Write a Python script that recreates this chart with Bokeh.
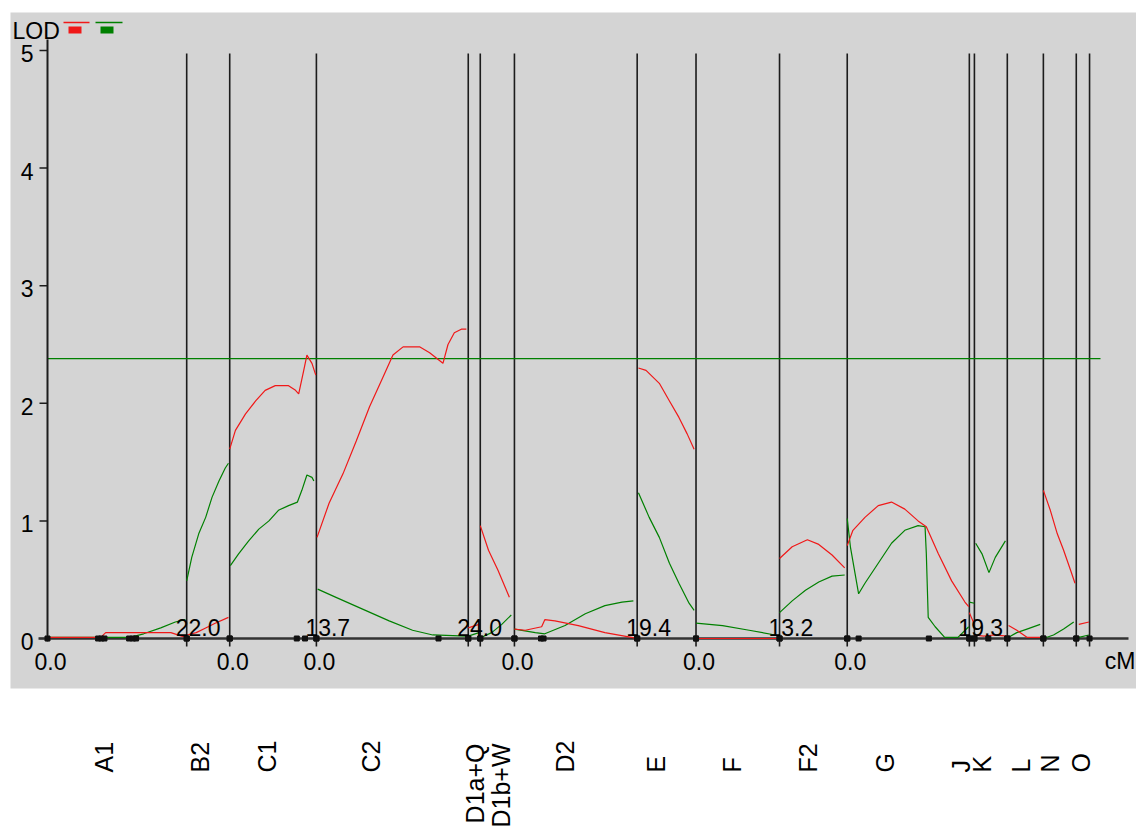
import numpy as np
from bokeh.plotting import figure
from bokeh.core.properties import value
from bokeh.embed import file_html
from bokeh.resources import INLINE

# ---------------- data ----------------
chroms = ["A1", "B2", "C1", "C2", "D1a+Q", "D1b+W", "D2", "E", "F", "F2",
          "G", "J", "K", "L", "N", "O"]
lengths = [22.0, 6.8, 13.7, 24.0, 1.9, 5.4, 19.4, 9.3, 13.2, 10.7,
           19.3, 0.8, 5.2, 5.7, 5.2, 2.1]
# chromosomes whose start (0.0) and length are printed on the axis
labeled = ["A1", "C1", "C2", "D2", "F", "G"]
threshold = 2.38
y_ticks = [0, 1, 2, 3, 4, 5]

# LOD profile, trait 1 (red): positions (cM in chromosome) and LOD
red_cm = [
    [0, 8.4, 9.2, 19.5, 21.2, 22.0],
    [0, 1.5, 3.0, 4.5, 6.6],
    [0, 0.9, 2.5, 4.1, 5.6, 7.2, 9.3, 10.4, 10.9, 11.7, 12.2, 13.0, 13.6],
    [0.1, 2.0, 4.2, 6.3, 8.4, 10.5, 12.1, 13.7, 16.3, 17.9, 20.0, 20.8, 21.8, 22.9, 23.7],
    [0, 1.7],
    [0, 1.3, 2.8, 4.6],
    [0, 1.7, 4.3, 4.8, 6.4, 10.1, 14.3, 18.5, 19.4],
    [0.2, 1.4, 3.5, 5.1, 6.6, 7.9, 9.0],
    [0, 13.2],
    [0, 2.0, 4.4, 6.2, 8.3, 10.3],
    [0, 0.9, 2.8, 4.9, 7.0, 9.1, 11.2, 12.5, 14.4, 16.5, 18.6, 19.2],
    [0, 0.8],
    [0, 1.5, 3.0, 5.2],
    [0.2, 1.5, 3.1, 5.5],
    [0, 1.1, 2.2, 3.2, 4.3, 5.0],
    [0.4, 2.0],
]
red_lod = [
    [0.01, 0.01, 0.05, 0.05, 0.02, 0.01],
    [0.03, 0.05, 0.09, 0.13, 0.18],
    [1.61, 1.77, 1.91, 2.02, 2.11, 2.15, 2.15, 2.11, 2.08, 2.28, 2.41, 2.34, 2.24],
    [0.86, 1.15, 1.40, 1.68, 1.97, 2.22, 2.41, 2.48, 2.48, 2.43, 2.34, 2.50, 2.60, 2.63, 2.63],
    [0.09, 0.12],
    [0.96, 0.75, 0.58, 0.35],
    [0.08, 0.07, 0.10, 0.16, 0.15, 0.11, 0.05, 0.01, 0.0],
    [2.30, 2.28, 2.17, 2.02, 1.88, 1.74, 1.61],
    [0.0, 0.0],
    [0.68, 0.78, 0.84, 0.80, 0.71, 0.60],
    [0.79, 0.92, 1.03, 1.13, 1.16, 1.10, 1.00, 0.95, 0.72, 0.49, 0.31, 0.27],
    [0.22, 0.12],
    [0.03, 0.02, 0.03, 0.02],
    [0.11, 0.07, 0.01, 0.01],
    [1.26, 1.09, 0.89, 0.75, 0.58, 0.47],
    [0.12, 0.14],
]

# LOD profile, trait 2 (green)
green_cm = [
    [0, 13.0, 15.2, 17.9, 20.2, 21.8],
    [0, 0.8, 1.9, 3.0, 4.0, 5.1, 6.1, 6.6],
    [0.1, 1.4, 3.0, 4.6, 6.2, 7.7, 9.3, 10.7, 11.4, 12.2, 13.0, 13.3],
    [0.2, 3.1, 7.3, 11.5, 15.2, 18.4, 23.7],
    [0, 1.7],
    [0.2, 1.8, 3.4, 4.9],
    [0, 3.3, 4.8, 8.0, 11.2, 14.3, 17.0, 18.8],
    [0.2, 1.9, 3.5, 5.1, 6.6, 8.2, 9.0],
    [0, 4.2, 8.4, 12.5],
    [0, 2.0, 4.1, 6.2, 8.3, 10.3],
    [0, 0.5, 1.8, 2.8, 4.9, 7.0, 9.1, 11.2, 12.3, 12.5, 12.8, 13.9, 15.4, 17.5, 19.2],
    [0, 0.8],
    [0.2, 1.2, 2.3, 3.3, 4.9],
    [0.2, 1.5, 3.1, 5.2],
    [0, 1.6, 3.2, 4.8],
    [0.4, 2.0],
]
green_lod = [
    [0.01, 0.01, 0.04, 0.09, 0.14, 0.16],
    [0.49, 0.69, 0.89, 1.03, 1.20, 1.34, 1.45, 1.49],
    [0.62, 0.72, 0.83, 0.93, 1.00, 1.09, 1.13, 1.16, 1.26, 1.39, 1.37, 1.34],
    [0.42, 0.35, 0.25, 0.15, 0.07, 0.03, 0.02],
    [0.02, 0.05],
    [0.01, 0.05, 0.12, 0.20],
    [0.08, 0.05, 0.04, 0.11, 0.21, 0.28, 0.31, 0.32],
    [1.24, 1.03, 0.86, 0.64, 0.47, 0.30, 0.24],
    [0.13, 0.11, 0.07, 0.03],
    [0.22, 0.32, 0.41, 0.48, 0.53, 0.54],
    [1.02, 0.78, 0.38, 0.47, 0.64, 0.81, 0.92, 0.96, 0.95, 0.72, 0.18, 0.10, 0.01, 0.01, 0.10],
    [0.31, 0.30],
    [0.81, 0.72, 0.56, 0.69, 0.83],
    [0.01, 0.05, 0.08, 0.12],
    [0.0, 0.03, 0.08, 0.14],
    [0.01, 0.03],
]

# marker positions (cM within chromosome)
markers_cm = [
    [0, 8.0, 8.5, 9.0, 12.9, 13.5, 14.0, 22.0],
    [0, 6.8],
    [0, 10.6, 11.9, 13.7],
    [0, 19.3, 24.0],
    [0, 1.9],
    [0, 5.4],
    [0, 4.2, 4.6, 19.4],
    [0, 9.3],
    [0, 13.2],
    [0, 10.7],
    [0, 1.8, 12.9, 19.3],
    [0, 0.8],
    [0, 2.2, 5.2],
    [0, 5.7],
    [0, 5.2],
    [0, 2.1],
]

# ---------------- layout (page pixels) ----------------
W, H = 1136, 830
OFF = 0            # page position of the canvas origin
PX_CM = 6.327      # pixels per cM
X0 = 47            # page x of 0 cM
PX_LOD = 117.6     # pixels per LOD unit
Y0 = 638           # page y of LOD 0


def gx(P):
    return (P - X0) / PX_CM


def gy(Q):
    return (Y0 - Q) / PX_LOD


# page x of the chromosome names in the label strip
name_px = [103, 199, 266, 370, 474, 500, 564, 655, 731, 807, 884, 960, 981, 1020, 1049, 1080]

RED = "#f01818"
GREEN = "#008000"
NUM_FONT = value("Liberation Sans")
NUM_SIZE = "23px"
NAME_SIZE = "25px"

p = figure(width=W, height=H, x_range=(gx(OFF), gx(OFF + W)), y_range=(gy(OFF + H), gy(OFF)),
           output_backend="svg", toolbar_location=None, min_border=0,
           x_axis_type=None, y_axis_type=None)
p.outline_line_color = None
p.background_fill_color = "white"
p.border_fill_color = "white"

# gray panel
p.quad(left=gx(10), right=gx(1140), bottom=gy(688), top=gy(12),
       fill_color="#d4d4d4", line_color=None)

starts = np.concatenate([[0.0], np.cumsum(lengths)[:-1]])
ends = np.cumsum(lengths)

# chromosome boundary lines
bx = list(ends)
p.segment(x0=bx, y0=[gy(646)] * len(bx), x1=bx, y1=[gy(53)] * len(bx),
          line_color="#1c1c1c", line_width=1.6)

# threshold line
p.line(x=[0, gx(1100)], y=[threshold, threshold], line_color=GREEN, line_width=1.3)

# y axis
p.segment(x0=[0], y0=[gy(641)], x1=[0], y1=[gy(39)], line_color="#1c1c1c", line_width=2)
p.segment(x0=[gx(39)] * len(y_ticks), y0=y_ticks, x1=[0] * len(y_ticks), y1=y_ticks,
          line_color="#1c1c1c", line_width=1.5)
p.text(x=[gx(33)] * len(y_ticks), y=y_ticks, text=[str(t) for t in y_ticks],
       text_align="right", text_baseline="middle", y_offset=3,
       text_font=NUM_FONT, text_font_size=NUM_SIZE, text_color="black")

# x axis
p.segment(x0=[gx(38)], y0=[0], x1=[gx(1128)], y1=[0], line_color="#333333", line_width=2.5)

# curves
for i in range(len(chroms)):
    p.line(x=list(starts[i] + np.array(green_cm[i])), y=green_lod[i],
           line_color=GREEN, line_width=1.2)
for i in range(len(chroms)):
    p.line(x=list(starts[i] + np.array(red_cm[i])), y=red_lod[i],
           line_color=RED, line_width=1.2)

# markers
mk = [starts[i] + m for i in range(len(chroms)) for m in markers_cm[i]]
p.scatter(x=mk, y=[0] * len(mk), marker="square", size=5,
          fill_color="#111111", line_color="#111111")

# axis position labels
li = [chroms.index(c) for c in labeled]
p.text(x=[starts[i] for i in li], y=[gy(661)] * len(li), text=["0.0"] * len(li),
       text_align="center", text_baseline="middle", x_offset=3,
       text_font=NUM_FONT, text_font_size=NUM_SIZE, text_color="black")
p.text(x=[ends[i] for i in li], y=[gy(627)] * len(li),
       text=["%.1f" % lengths[i] for i in li],
       text_align="left", text_baseline="middle", x_offset=-11,
       text_font=NUM_FONT, text_font_size=NUM_SIZE, text_color="black")
p.text(x=[gx(1135)], y=[gy(660)], text=["cM"], text_align="right", text_baseline="middle",
       text_font=NUM_FONT, text_font_size=NUM_SIZE, text_color="black")

# LOD title + legend swatches
p.text(x=[gx(12)], y=[gy(30)], text=["LOD"], text_align="left", text_baseline="middle",
       text_font=NUM_FONT, text_font_size=NUM_SIZE, text_color="black")
p.segment(x0=[gx(63), gx(95)], y0=[gy(22)] * 2, x1=[gx(89), gx(122)], y1=[gy(22)] * 2,
          line_color=[RED, GREEN], line_width=1.5)
p.quad(left=[gx(68), gx(100)], right=[gx(81), gx(113)], top=[gy(26)] * 2, bottom=[gy(33)] * 2,
       fill_color=[RED, GREEN], line_color=None)

# chromosome names (rotated)
short = [i for i, c in enumerate(chroms) if c not in ("D1a+Q", "D1b+W")]
longn = [i for i, c in enumerate(chroms) if c in ("D1a+Q", "D1b+W")]
p.text(x=[gx(name_px[i]) for i in short], y=[gy(772)] * len(short),
       text=[chroms[i] for i in short], angle=np.pi / 2,
       text_align="left", text_baseline="middle",
       text_font=value("Liberation Sans"), text_font_size=NAME_SIZE, text_color="black")
p.text(x=[gx(name_px[i]) for i in longn], y=[gy(743)] * len(longn),
       text=[chroms[i] for i in longn], angle=np.pi / 2,
       text_align="right", text_baseline="middle",
       text_font=value("Liberation Sans"), text_font_size=NAME_SIZE, text_color="black")

open("out.html", "w").write(file_html(p, INLINE))
